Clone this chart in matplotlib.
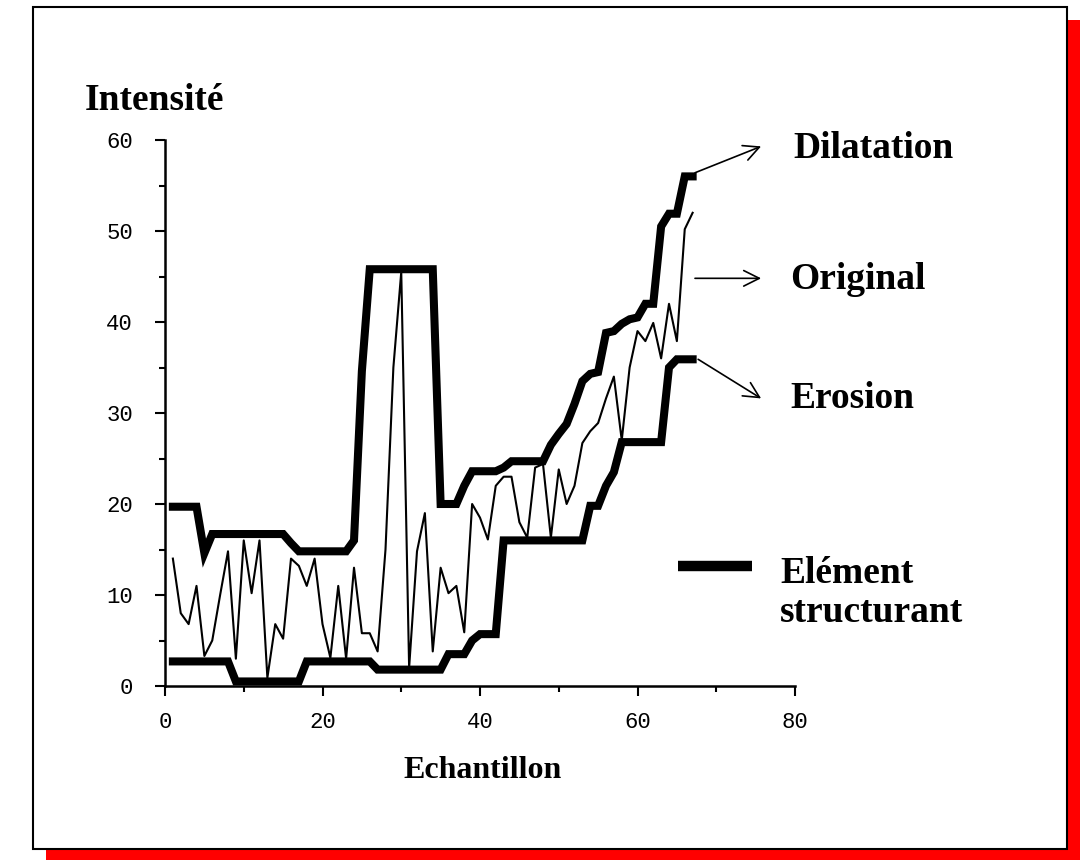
import matplotlib
matplotlib.use('Agg')
import matplotlib.pyplot as plt
from matplotlib.patches import Rectangle
from matplotlib.lines import Line2D
import numpy as np

# sample index 1..67
echantillon = np.arange(1, 68)

original = [14, 8, 6.8, 11, 3.3, 5, 10, 14.8, 3, 16,
            10.2, 16, 0.9, 6.8, 5.2, 14, 13.2, 11, 14, 6.8,
            3.1, 11, 3, 13, 5.8, 5.8, 3.8, 15, 35, 45.5,
            2, 14.8, 19, 3.8, 13, 10.2, 11, 5.9, 20, 18.5,
            16.1, 22, 23, 23, 18, 16.3, 24, 24.4, 16.3, 23.8,
            20, 22, 26.7, 28, 28.9, 31.6, 34, 27, 35, 39,
            37.9, 39.9, 36, 42, 37.9, 50.2, 52]

dilatation = [19.7, 19.7, 19.7, 19.7, 14.6, 16.7, 16.7, 16.7, 16.7, 16.7,
              16.7, 16.7, 16.7, 16.7, 16.7, 15.7, 14.8, 14.8, 14.8, 14.8,
              14.8, 14.8, 14.8, 16, 34.6, 45.8, 45.8, 45.8, 45.8, 45.8,
              45.8, 45.8, 45.8, 45.8, 20, 20, 20, 22, 23.6, 23.6,
              23.6, 23.6, 24, 24.7, 24.7, 24.7, 24.7, 24.7, 26.5, 27.7,
              28.8, 31, 33.5, 34.3, 34.5, 38.8, 39, 39.8, 40.3, 40.5,
              42, 42, 50.5, 51.9, 51.9, 56, 56]

erosion = [2.7, 2.7, 2.7, 2.7, 2.7, 2.7, 2.7, 2.7, 0.5, 0.5,
           0.5, 0.5, 0.5, 0.5, 0.5, 0.5, 0.5, 2.7, 2.7, 2.7,
           2.7, 2.7, 2.7, 2.7, 2.7, 2.7, 1.8, 1.8, 1.8, 1.8,
           1.8, 1.8, 1.8, 1.8, 1.8, 3.5, 3.5, 3.5, 5, 5.7,
           5.7, 5.7, 16, 16, 16, 16, 16, 16, 16, 16,
           16, 16, 16, 19.8, 19.8, 22, 23.5, 26.8, 26.8, 26.8,
           26.8, 26.8, 26.8, 35, 35.9, 35.9, 35.9]

fig = plt.figure(figsize=(10.84, 8.61), dpi=100)
W, H = 1084, 861

def px(x, y):
    return x / W, 1 - y / H

# frame with red shadow
sx, sy = px(46, 20)
fig.patches.append(Rectangle((sx, px(0, 860)[1]), px(1080, 0)[0] - sx, sy - px(0, 860)[1],
                             transform=fig.transFigure, facecolor='red', edgecolor='none', zorder=0))
fx, fy = px(33, 7)
fx2, fy2 = px(1067, 849)
fig.patches.append(Rectangle((fx, fy2), fx2 - fx, fy - fy2, transform=fig.transFigure,
                             facecolor='white', edgecolor='black', linewidth=1.5, zorder=1))

ax = fig.add_axes([165 / W, 1 - 686 / H, (795 - 165) / W, (686 - 140) / H])
ax.set_facecolor('none')
ax.set_zorder(2)

ax.plot(echantillon, dilatation, color='black', lw=5.8, solid_joinstyle='miter')
ax.plot(echantillon, erosion, color='black', lw=5.8, solid_joinstyle='miter')
ax.plot(echantillon, original, color='black', lw=1.5)

ax.set_xlim(0, 80)
ax.set_ylim(0, 60)
ax.set_xticks([0, 20, 40, 60, 80])
ax.set_xticks([10, 30, 50, 70], minor=True)
ax.set_yticks([0, 10, 20, 30, 40, 50, 60])
ax.set_yticks([5, 15, 25, 35, 45, 55], minor=True)

for s in ['top', 'right']:
    ax.spines[s].set_visible(False)
for s in ['left', 'bottom']:
    ax.spines[s].set_linewidth(1.8)

ax.tick_params(which='major', direction='out', length=7, width=1.5)
ax.tick_params(which='minor', direction='out', length=4, width=1.5)
ax.tick_params(axis='y', which='major', pad=16)
ax.tick_params(axis='x', which='major', pad=12)
for lab in ax.get_xticklabels() + ax.get_yticklabels():
    lab.set_fontfamily('Liberation Mono')
    lab.set_fontsize(16)

serif = dict(family='Liberation Serif', fontweight='bold', color='black')
fig.text(*px(85, 110), 'Intensité', fontsize=27, va='baseline', **serif)
fig.text(*px(483, 778), 'Echantillon', fontsize=23, ha='center', va='baseline', **serif)
fig.text(*px(793, 158), 'Dilatation', fontsize=27, va='baseline', **serif)
fig.text(*px(790, 289), 'Original', fontsize=27, va='baseline', **serif)
fig.text(*px(790, 408), 'Erosion', fontsize=27, va='baseline', **serif)
fig.text(*px(780, 583), 'Elément', fontsize=27, va='baseline', **serif)
fig.text(*px(780, 622), 'structurant', fontsize=27, va='baseline', **serif)

# structuring element sample
lx1, ly = px(678, 566)
lx2, _ = px(752, 566)
fig.add_artist(Line2D([lx1, lx2], [ly, ly], color='black', lw=7.5, solid_capstyle='butt',
                      transform=fig.transFigure))

# arrows to the labels
arrows = [((67.3, 56.4), (75.7, 59.3)),
          ((67.3, 44.8), (75.7, 44.8)),
          ((67.7, 35.9), (75.7, 31.6))]
for tail, head in arrows:
    ax.annotate('', xy=head, xytext=tail, annotation_clip=False,
                arrowprops=dict(arrowstyle='->', lw=1.2, color='black',
                                mutation_scale=28, shrinkA=0, shrinkB=0))

fig.savefig('out.png', dpi=100)
